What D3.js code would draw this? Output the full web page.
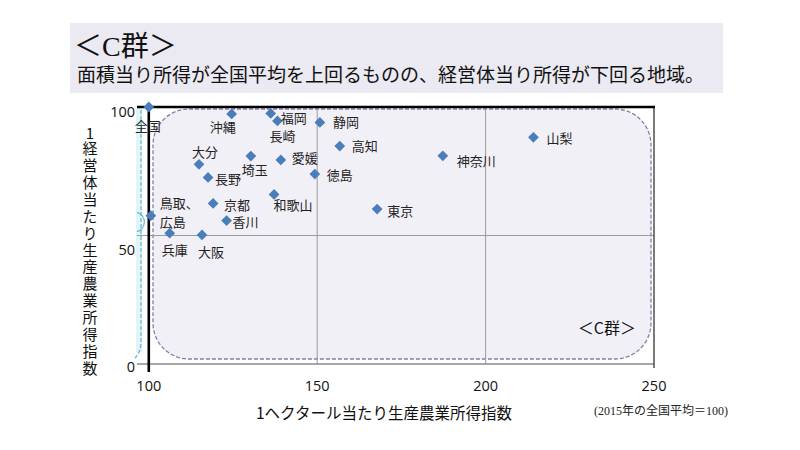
<!DOCTYPE html>
<html><head><meta charset="utf-8">
<script src="https://cdn.jsdelivr.net/npm/d3@7"></script>
<style>
body{margin:0;background:#fff;}
svg{display:block;font-family:"Noto Sans CJK JP","Noto Sans",sans-serif;}
</style></head>
<body><svg id="c" width="800" height="450"></svg>
<script>
// ---- data ----
const regions = ["全国","沖縄","福岡","長崎","大分","埼玉","愛媛","長野","鳥取、広島","京都","香川","兵庫","大阪","和歌山","静岡","高知","徳島","神奈川","山梨","東京"];
const incomePerHa =   [100, 124.6, 136.2, 138.2, 114.9, 130.3, 139.2, 117.6, 100.6, 119.1, 123.1, 106.2, 115.8, 137.2, 150.8, 156.7, 149.3, 187.3, 214.2, 167.8];
const incomePerFarm = [100,  97.3,  97.5,  94.6,  77.7,  80.9,  79.4,  72.6,  57.7,  62.5,  55.8,  50.9,  50.2,  66.0,  94.0,  84.8,  73.9,  81.0,  88.2,  60.3];
const xTicks = [100, 150, 200, 250];
const yTicks = [0, 50, 100];
const titleText = "＜C群＞";
const subtitleText = "面積当り所得が全国平均を上回るものの、経営体当り所得が下回る地域。";
const xTitle = "1ヘクタール当たり生産農業所得指数";
const yTitleHead = "1";
const yTitleBody = "経営体当たり生産農業所得指数";
const noteText = "(2015年の全国平均＝100)";
const groupLabel = "＜C群＞";

// label placement (layout only): [dx, dy, anchor]
const labelLayout = {
  "全国":[-1,19,"middle"], "沖縄":[-9,13,"middle"], "福岡":[10,5,"start"], "長崎":[5,15,"middle"],
  "大分":[6,-12,"middle"], "埼玉":[4,14,"middle"], "愛媛":[11,-2,"start"], "長野":[7,2,"start"],
  "鳥取、広島":[9,0,"start"], "京都":[11,2,"start"], "香川":[6,1,"start"], "兵庫":[5,17,"middle"],
  "大阪":[9,17,"middle"], "和歌山":[19,11,"middle"], "静岡":[13,0,"start"], "高知":[12,0,"start"],
  "徳島":[12,1,"start"], "神奈川":[14,5,"start"], "山梨":[13,1,"start"], "東京":[10,2,"start"]
};

const svg = d3.select("#c");
const x = d3.scaleLinear().domain([96.5, 250]).range([137, 654]);
const y = d3.scaleLinear().domain([0, 100]).range([364, 107]);

// title box
svg.append("rect").attr("x",70).attr("y",23).attr("width",653).attr("height",70).attr("fill","#ebe9f1");
svg.append("text").attr("x",74).attr("y",56).attr("font-size",28)
  .attr("font-family","'Liberation Serif','Noto Sans CJK JP',serif").attr("fill","#111").text(titleText);
svg.append("text").attr("x",77).attr("y",82).attr("font-size",19).attr("fill","#111").text(subtitleText);

const [x0,x1] = x.range();
const [yb,yt] = y.range();

// cyan shape fragment on the left (adjacent group)
svg.append("rect").attr("x",136).attr("y",yt).attr("width",6).attr("height",245).attr("fill","#e3f4f7");
svg.append("path")
  .attr("d",`M141,${yt+3} L141,342 Q141,352 135,358`)
  .attr("fill","none").attr("stroke","#5bb8cc").attr("stroke-width",1.2).attr("stroke-dasharray","4,2");
svg.append("path")
  .attr("d",`M137,${y(59)} A10,10 0 0 1 137,${y(51.5)}`)
  .attr("fill","none").attr("stroke","#5bb8cc").attr("stroke-width",1.2);

// group rounded rectangle
svg.append("rect").attr("x",153).attr("y",109).attr("width",498).attr("height",250).attr("rx",36).attr("ry",36)
  .attr("fill","#f2f0f7").attr("stroke","#8a7aa8").attr("stroke-width",1.3).attr("stroke-dasharray","4,2");

// gridlines
const g = svg.append("g");
g.selectAll("line.vx").data(xTicks.filter(d=>d>100 && d<250)).enter().append("line")
  .attr("x1",d=>x(d)).attr("x2",d=>x(d)).attr("y1",yt).attr("y2",yb).attr("stroke","#9a9a9a").attr("stroke-width",1);
g.selectAll("line.hy").data(yTicks.filter(d=>d>0 && d<100)).enter().append("line")
  .attr("x1",x0).attr("x2",x1).attr("y1",d=>y(d)).attr("y2",d=>y(d)).attr("stroke","#9a9a9a").attr("stroke-width",1);

// axes frame
svg.append("line").attr("x1",x0).attr("x2",x1).attr("y1",yb).attr("y2",yb).attr("stroke","#8a8a8a").attr("stroke-width",1.3);
svg.append("line").attr("x1",x1).attr("x2",x1).attr("y1",yt).attr("y2",yb+4).attr("stroke","#333").attr("stroke-width",1.3);
svg.append("line").attr("x1",x0).attr("x2",x1+1).attr("y1",yt).attr("y2",yt).attr("stroke","#000").attr("stroke-width",2.6);
svg.append("line").attr("x1",x(100)).attr("x2",x(100)).attr("y1",yt-1).attr("y2",yb+8).attr("stroke","#000").attr("stroke-width",2.6);

// tick labels
svg.selectAll("text.xt").data(xTicks).enter().append("text")
  .attr("x",d=>x(d)).attr("y",391).attr("text-anchor","middle").attr("font-size",14.5)
  .attr("font-family","'Open Sans','Noto Sans',sans-serif").attr("fill","#111").text(d=>d);
const yLabelShift = {0:8, 50:19, 100:10};
svg.selectAll("text.yt").data(yTicks).enter().append("text")
  .attr("x",135).attr("y",d=>y(d)+yLabelShift[d]).attr("text-anchor","end").attr("font-size",14.5)
  .attr("font-family","'Open Sans','Noto Sans',sans-serif").attr("fill","#111").text(d=>d);

// axis titles
svg.append("text").attr("x",384).attr("y",419).attr("text-anchor","middle").attr("font-size",15.5).attr("fill","#111").text(xTitle);
svg.append("text").attr("x",90).attr("y",139).attr("text-anchor","middle").attr("font-size",15).attr("fill","#111").text(yTitleHead);
svg.append("text").attr("x",90).attr("y",141)
  .style("writing-mode","vertical-rl").style("text-orientation","upright")
  .attr("font-size",15).attr("letter-spacing",1.9).attr("fill","#111").text(yTitleBody);
svg.append("text").attr("x",728).attr("y",415).attr("text-anchor","end").attr("font-size",12)
  .attr("font-family","'Liberation Serif','Noto Sans CJK JP',serif").attr("fill","#222").text(noteText);

// group label
svg.append("text").attr("x",636).attr("y",334).attr("text-anchor","end").attr("font-size",16).attr("fill","#111").text(groupLabel);

// points
const pts = regions.map((r,i)=>({name:r, x:incomePerHa[i], y:incomePerFarm[i]}));
svg.selectAll("path.pt").data(pts).enter().append("path")
  .attr("d", d3.symbol().type(d3.symbolSquare).size(58))
  .attr("transform", d=>`translate(${x(d.x)},${y(d.y)}) rotate(45)`)
  .attr("fill","#4a7ebb");

// labels
pts.forEach(d=>{
  const [dx,dy,anc] = labelLayout[d.name];
  const px = x(d.x)+dx, py = y(d.y)+dy;
  if (d.name === "鳥取、広島") {
    const parts = d.name.split("、");
    svg.append("text").attr("text-anchor",anc).attr("font-size",13).attr("fill","#222")
      .attr("x",px).attr("y",py-8).text(parts[0] + "、");
    svg.append("text").attr("text-anchor",anc).attr("font-size",13).attr("fill","#222")
      .attr("x",px).attr("y",py+11).text(parts[1]);
  } else {
    svg.append("text").attr("text-anchor",anc).attr("font-size",13).attr("fill","#222")
      .attr("x",px).attr("y",py+5).text(d.name);
  }
});
</script></body></html>
